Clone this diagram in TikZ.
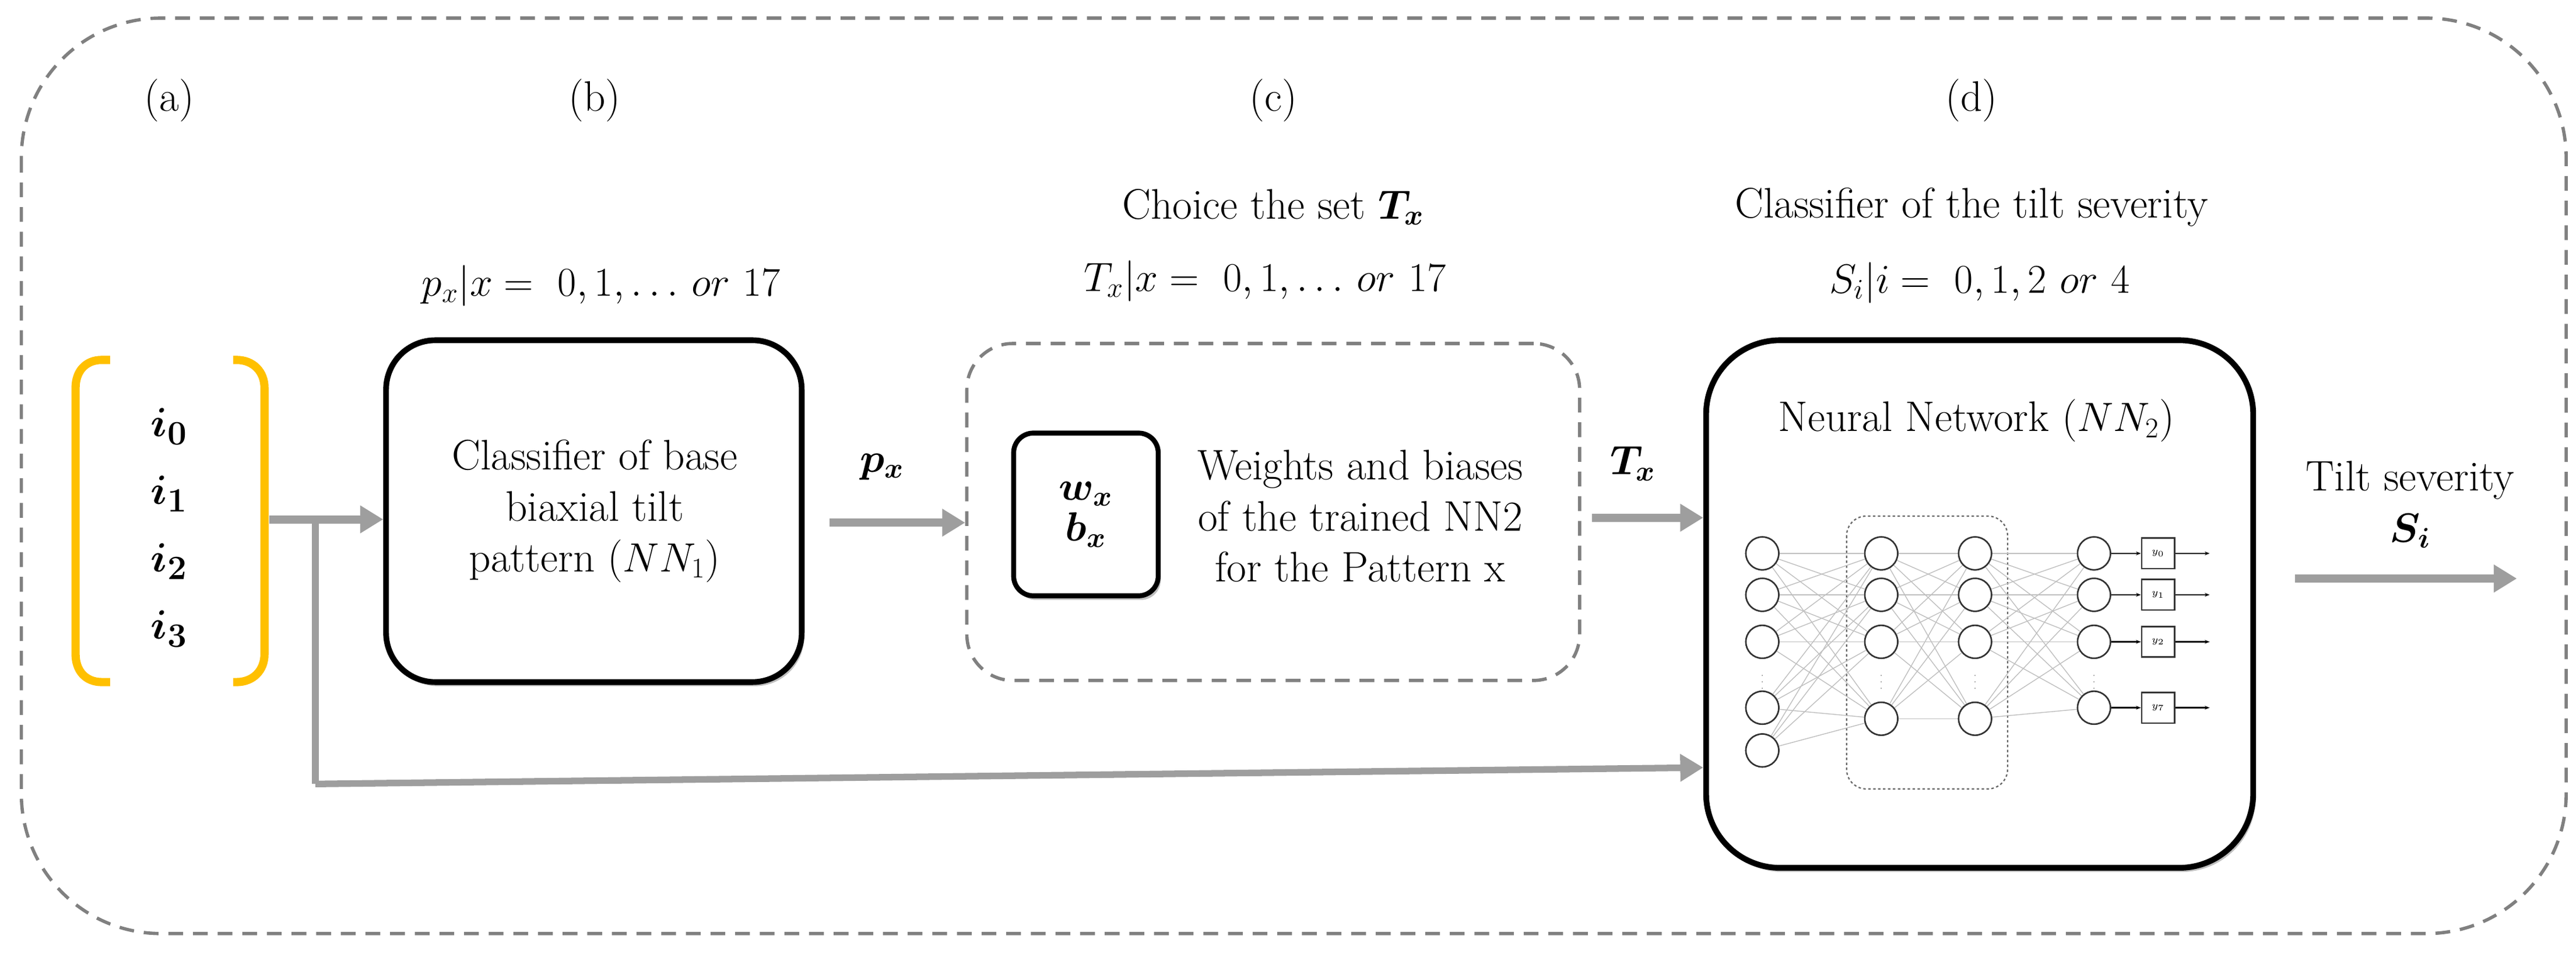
\documentclass[tikz,border=0pt]{standalone}
\usepackage{bm}
\usetikzlibrary{arrows.meta,shadows,calc}
\definecolor{gold}{RGB}{255,192,0}
\begin{document}
\begin{tikzpicture}[x=1pt,y=-1pt,
  txt/.style={font=\fontsize{26}{31}\selectfont, align=center, inner sep=0pt},
  garrow/.style={draw=black!38, line width=5pt, -{Triangle[length=14pt,width=16pt]}},
  bigbox/.style={draw=black, line width=3.5pt, rounded corners=30pt, fill=white, drop shadow={shadow xshift=1.5pt,shadow yshift=-2.5pt,opacity=0.5}},
  dbox/.style={draw=black!50, line width=2pt, dash pattern=on 9pt off 6pt, rounded corners=28pt},
  neu/.style={circle, draw=black!80, line width=0.9pt, minimum size=20pt, inner sep=0pt, fill=white},
  outb/.style={draw=black!80, line width=0.9pt, minimum width=20pt, minimum height=18.6pt, inner sep=0pt, font=\fontsize{6}{6}\selectfont\itshape},
  conn/.style={draw=black!25, line width=0.5pt}]
\useasboundingbox (0,0) rectangle (1568,582);
\draw[dbox, rounded corners=85pt] (13,11) rectangle (1562,568);

\node[txt] (la) at (103,61) {(a)};
\node[txt] (lb) at (362,61) {(b)};
\node[txt] (lc) at (775,61) {(c)};
\node[txt] (ld) at (1200,61) {(d)};

% input vector
\draw[gold, line width=5pt] (67,219) -- (62,219) .. controls (52,219) and (46,226) .. (46,236) -- (46,398) .. controls (46,408) and (52,415) .. (62,415) -- (67,415);
\draw[gold, line width=5pt] (142,219) -- (144,219) .. controls (154,219) and (161,226) .. (161,236) -- (161,398) .. controls (161,408) and (154,415) .. (144,415) -- (142,415);
\node[txt, font=\fontsize{32}{41}\selectfont] (vec) at (103,321) {$\bm{i_0}$\\$\bm{i_1}$\\$\bm{i_2}$\\$\bm{i_3}$};
\coordinate (vout) at (164,316);
\coordinate (br) at (192,316);
\coordinate (bd) at (192,477);

% box b
\node[bigbox, minimum width=253pt, minimum height=208pt] (b) at (361.5,311) {};
\node[txt] (btxt) at (362,311) {Classifier of base\\biaxial tilt\\pattern ($NN_1$)};
\node[txt] (bsub) at (366,174) {$p_x|x =\ 0,1,\ldots\,or\ 17$};
\draw[garrow] (vout) -- (b.west |- vout);

% p_x
\node[txt] (px) at (537,284) {$\bm{p_x}$};
\coordinate (pxs) at (505,318);

% box c
\node[dbox, minimum width=373pt, minimum height=205pt] (c) at (775,311.5) {};
\draw[garrow] (pxs) -- (c.west |- pxs);
\node[bigbox, line width=3pt, rounded corners=12pt, minimum width=88pt, minimum height=99pt] (wb) at (661,313) {};
\node[txt] at (wb) {$\bm{w_x}$\\[-6pt]$\bm{b_x}$};
\node[txt] (ctxt) at (828,314) {Weights and biases\\of the trained NN2\\for the Pattern x};
\node[txt] (ct1) at (775,126) {Choice the set $\bm{T_x}$};
\node[txt] (ct2) at (770,171) {$T_x|x =\ 0,1,\ldots\,or\ 17$};

% T_x
\node[txt] (tx) at (994,282) {$\bm{T_x}$};
\coordinate (txs) at (969,315);

% box d
\node[bigbox, minimum width=333pt, minimum height=321pt, rounded corners=45pt] (d) at (1205,367.5) {};
\draw[garrow] (txs) -- (d.west |- txs);
\node[txt] (dt1) at (1200,126) {Classifier of the tilt severity};
\node[txt] (dt2) at (1205,172) {$S_i|i =\ 0,1,2\ or\ 4$};
\node[txt] (nnt) at (1203,256) {Neural Network ($NN_2$)};

% network
\draw[black!60, line width=0.8pt, dash pattern=on 1.5pt off 1.5pt, rounded corners=12pt] (1124,314) rectangle (1222,480);
\foreach \r/\y in {1/336.7,2/361.9,3/390.5,4/430.6,5/456.6} \node[neu] (a\r) at (1072.7,\y) {};
\foreach \r/\y in {1/336.7,2/361.9,3/390.5,4/437.3} {
  \node[neu] (h\r) at (1145.1,\y) {};
  \node[neu] (g\r) at (1202.2,\y) {};
}
\foreach \r/\y in {1/336.7,2/361.9,3/390.5,4/430.6} \node[neu] (o\r) at (1274.6,\y) {};
\foreach \i in {1,...,5} \foreach \j in {1,...,4} \draw[conn] (a\i) -- (h\j);
\foreach \i in {1,...,4} \foreach \j in {1,...,4} {\draw[conn] (h\i) -- (g\j); \draw[conn] (g\i) -- (o\j);}
\foreach \r in {1,...,4} \node[neu] at (o\r) {};
\foreach \r in {1,...,5} \node[neu] at (a\r) {};
\foreach \r in {1,...,4} {\node[neu] at (h\r) {}; \node[neu] at (g\r) {};}
\foreach \x in {1072.7,1145.1,1202.2,1274.6} \node[font=\tiny, black!60] at (\x,412) {$\vdots$};
\foreach \r/\l in {1/0,2/1,3/2,4/7} {
  \node[outb, fill=white] (y\r) at (1313.6,0 |- o\r) {$y_{\l}$};
  \coordinate (e\r) at (1345,0 |- o\r);
  \draw[black, line width=0.9pt, -{Stealth[length=3pt]}] (o\r) -- (y\r);
  \draw[black, line width=0.9pt, -{Stealth[length=3pt]}] (y\r) -- (e\r);
}

% branch
\draw[draw=black!38, line width=4pt] (br) -- (bd);
\draw[garrow, line width=4pt] (bd) -- (d.west |- 0,467);

% output
\node[txt] (ts) at (1467,307) {Tilt severity\\$\bm{S_i}$};
\coordinate (ds) at (1397,352);
\coordinate (de) at (1532,352);
\draw[garrow] (ds) -- (de);
\end{tikzpicture}
\end{document}
